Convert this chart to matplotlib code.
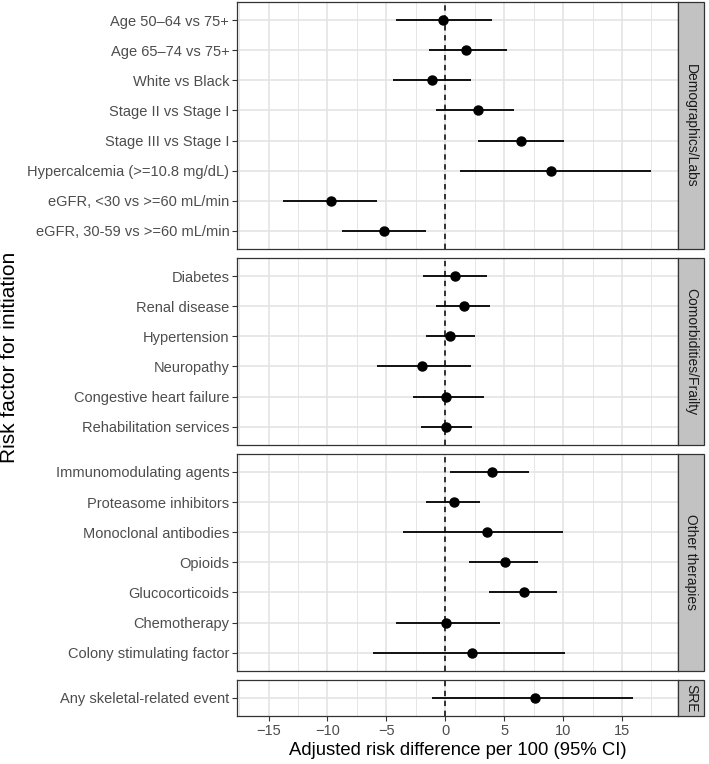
import numpy as np
import matplotlib
matplotlib.use("Agg")
import matplotlib.pyplot as plt
from matplotlib.patches import Rectangle

plt.rcParams['font.family'] = ['Liberation Sans', 'DejaVu Sans']

# Data (estimate, lower CI, upper CI)
groups = ["Demographics/Labs", "Comorbidities/Frailty", "Other therapies", "SRE"]

demo_labels = ["Age 50\u201364 vs 75+", "Age 65\u201374 vs 75+", "White vs Black",
               "Stage II vs Stage I", "Stage III vs Stage I",
               "Hypercalcemia (>=10.8 mg/dL)", "eGFR, <30 vs >=60 mL/min",
               "eGFR, 30-59 vs >=60 mL/min"]
demo_est = [-0.2, 1.75, -1.15, 2.75, 6.4, 9.0, -9.7, -5.2]
demo_lo = [-4.2, -1.35, -4.45, -0.75, 2.75, 1.25, -13.8, -8.75]
demo_hi = [4.0, 5.2, 2.15, 5.85, 10.1, 17.5, -5.8, -1.6]

como_labels = ["Diabetes", "Renal disease", "Hypertension", "Neuropathy",
               "Congestive heart failure", "Rehabilitation services"]
como_est = [0.85, 1.55, 0.4, -1.95, 0.1, 0.1]
como_lo = [-1.9, -0.75, -1.65, -5.8, -2.75, -2.05]
como_hi = [3.5, 3.8, 2.5, 2.15, 3.25, 2.3]

ther_labels = ["Immunomodulating agents", "Proteasome inhibitors",
               "Monoclonal antibodies", "Opioids", "Glucocorticoids",
               "Chemotherapy", "Colony stimulating factor"]
ther_est = [3.95, 0.7, 3.55, 5.05, 6.65, 0.05, 2.25]
ther_lo = [0.4, -1.6, -3.55, 2.0, 3.75, -4.15, -6.15]
ther_hi = [7.1, 2.95, 10.0, 7.9, 9.5, 4.65, 10.2]

sre_labels = ["Any skeletal-related event"]
sre_est = [7.6]
sre_lo = [-1.1]
sre_hi = [15.95]

panels = [
    (demo_labels, demo_est, demo_lo, demo_hi),
    (como_labels, como_est, como_lo, como_hi),
    (ther_labels, ther_est, ther_lo, ther_hi),
    (sre_labels, sre_est, sre_lo, sre_hi),
]

W, H = 709, 764
fig = plt.figure(figsize=(W / 100, H / 100), dpi=100)
ratios = [len(p[0]) + 0.2 for p in panels]
gs = fig.add_gridspec(len(panels), 1, height_ratios=ratios,
                      left=237 / W, right=678 / W,
                      top=1 - 2 / H, bottom=1 - 716 / H, hspace=0.053)

grid_col = "#E2E2E2"
border_col = "#333333"
text_col = "#4D4D4D"
strip_w = 26 / 441

for k, (labels, est, lo, hi) in enumerate(panels):
    ax = fig.add_subplot(gs[k])
    n = len(labels)
    y = np.arange(n)[::-1]

    ax.set_xlim(-17.68, 19.75)
    ax.set_ylim(-0.6, n - 1 + 0.6)

    # grid
    for gx in np.arange(-17.5, 20, 5):
        ax.axvline(gx, color=grid_col, lw=0.6, zorder=0)
    for gx in np.arange(-15, 20, 5):
        ax.axvline(gx, color=grid_col, lw=1.1, zorder=0)
    for gy in y:
        ax.axhline(gy, color=grid_col, lw=1.1, zorder=0)

    ax.axvline(0, color="black", lw=1.1, ls=(0, (3.5, 3)), zorder=2)
    ax.hlines(y, lo, hi, color="black", lw=1.3, zorder=3)
    ax.plot(est, y, "o", color="black", ms=6.5, zorder=4)

    ax.set_yticks(y)
    ax.set_yticklabels(labels, fontsize=10.5, color=text_col)
    ax.set_xticks(np.arange(-15, 20, 5))
    ax.tick_params(axis="y", length=3.5, width=0.8, color=border_col, pad=2)
    ax.tick_params(axis="x", length=3.5, width=0.8, color=border_col, pad=2,
                   labelsize=10.5, labelcolor=text_col)
    if k < len(panels) - 1:
        ax.tick_params(axis="x", bottom=False, labelbottom=False)
    for s in ax.spines.values():
        s.set_color(border_col)
        s.set_linewidth(0.9)

    # facet strip on the right
    ax.add_patch(Rectangle((1, 0), strip_w, 1, transform=ax.transAxes,
                           facecolor="#C2C2C2", edgecolor=border_col, lw=0.9,
                           clip_on=False, zorder=5))
    ax.text(1 + strip_w / 2, 0.5, groups[k], transform=ax.transAxes,
            rotation=-90, ha="center", va="center", fontsize=10,
            color="#1A1A1A", zorder=6)

    if k == len(panels) - 1:
        ax.set_xlabel("Adjusted risk difference per 100 (95% CI)",
                      fontsize=13.3, labelpad=3)

fig.text(10 / W, 1 - 357 / H, "Risk factor for initiation", rotation=90,
         ha="center", va="center", fontsize=15)

fig.savefig("out.png", dpi=100)
